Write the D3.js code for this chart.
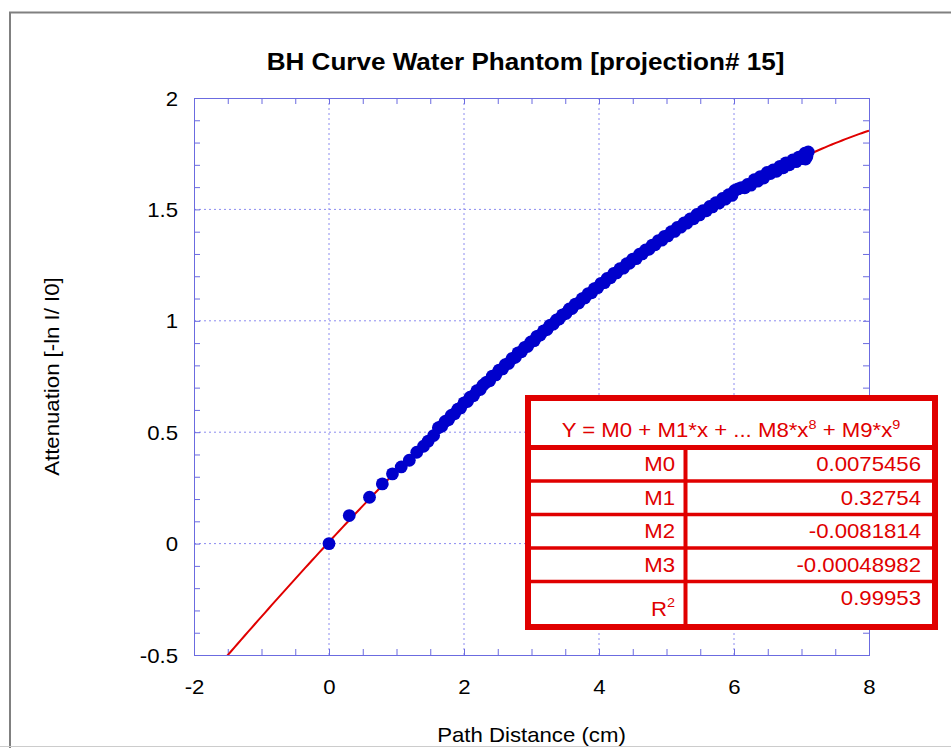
<!DOCTYPE html>
<html><head><meta charset="utf-8">
<script src="https://cdn.jsdelivr.net/npm/d3@7"></script>
<style>html,body{margin:0;padding:0;background:#fff;} svg{display:block;}</style>
</head><body>
<script>
// ---- data ----
const chartTitle = "BH Curve Water Phantom [projection# 15]";
const xAxisTitle = "Path Distance (cm)";
const yAxisTitle = "Attenuation [-ln I/ I0]";

const pathDistance = [
  0, 0.30, 0.60, 0.79, 0.94, 1.07, 1.19, 1.30, 1.40, 1.47, 1.55,
  1.62, 1.67, 1.72, 1.77, 1.81, 1.86, 1.91, 1.95, 2.00, 2.05, 2.09, 2.14, 2.19, 2.24, 2.28,
  2.33, 2.38, 2.42, 2.47, 2.52, 2.57, 2.61, 2.66, 2.71, 2.76, 2.80, 2.85, 2.90, 2.94, 2.99,
  3.04, 3.08, 3.13, 3.18, 3.23, 3.27, 3.32, 3.37, 3.41, 3.46, 3.51, 3.56, 3.60, 3.65, 3.70,
  3.75, 3.79, 3.84, 3.89, 3.93, 3.98, 4.03, 4.08, 4.12, 4.17, 4.22, 4.26, 4.31, 4.36, 4.41,
  4.45, 4.50, 4.55, 4.60, 4.64, 4.69, 4.74, 4.79, 4.83, 4.88, 4.93, 4.97, 5.02, 5.07, 5.12,
  5.16, 5.21, 5.26, 5.30, 5.35, 5.40, 5.45, 5.49, 5.54, 5.59, 5.64, 5.68, 5.73, 5.78, 5.83,
  5.87, 5.92, 5.97, 6.01, 6.06, 6.11, 6.16, 6.20, 6.25, 6.30, 6.35, 6.39, 6.44, 6.49, 6.54,
  6.58, 6.63, 6.68, 6.73, 6.77, 6.82, 6.87, 6.92, 6.96, 7.01, 7.05, 7.06, 7.08, 7.10
];
const attenuation = [
  0, 0.126, 0.208, 0.268, 0.313, 0.344, 0.374, 0.410, 0.437, 0.460, 0.485,
  0.520, 0.527, 0.548, 0.556, 0.575, 0.583, 0.604, 0.609, 0.632, 0.638, 0.657, 0.664, 0.686, 0.692, 0.711,
  0.724, 0.731, 0.752, 0.757, 0.779, 0.784, 0.803, 0.809, 0.830, 0.836, 0.856, 0.861, 0.881, 0.885, 0.905,
  0.911, 0.930, 0.936, 0.955, 0.961, 0.979, 0.985, 1.004, 1.008, 1.027, 1.033, 1.053, 1.055, 1.075, 1.080,
  1.099, 1.103, 1.122, 1.126, 1.144, 1.149, 1.168, 1.171, 1.190, 1.193, 1.213, 1.215, 1.234, 1.236, 1.256,
  1.258, 1.277, 1.279, 1.299, 1.300, 1.318, 1.321, 1.340, 1.341, 1.360, 1.362, 1.379, 1.381, 1.400, 1.401,
  1.419, 1.420, 1.439, 1.438, 1.457, 1.458, 1.477, 1.475, 1.494, 1.494, 1.513, 1.511, 1.530, 1.529, 1.549,
  1.546, 1.566, 1.563, 1.585, 1.592, 1.598, 1.597, 1.612, 1.609, 1.633, 1.627, 1.647, 1.641, 1.666, 1.661,
  1.677, 1.671, 1.693, 1.687, 1.709, 1.700, 1.722, 1.714, 1.735, 1.728, 1.752, 1.726, 1.737, 1.758
];

const fitTerms = ["M0", "M1", "M2", "M3"];
const fitCoefficients = [0.0075456, 0.32754, -0.0081814, -0.00048982];
const fitCoefficientLabels = ["0.0075456", "0.32754", "-0.0081814", "-0.00048982"];
const rSquaredValue = "0.99953";

const xTicks = [-2, 0, 2, 4, 6, 8];
const yTicks = [-0.5, 0, 0.5, 1, 1.5, 2];
const xMinorStep = 0.5;
const yMinorStep = 0.1;

// ---- layout ----
const W = 951, H = 748;
const plot = {left: 194, right: 869, top: 98, bottom: 655};
const FONT = "'Liberation Sans', Arial, sans-serif";
const SX = 1.11;               // horizontal glyph stretch seen in the reference
const RED = "#e00000";
const BLUE_DOT = "#0000cc";

const svg = d3.select("body").append("svg").attr("width", W).attr("height", H);

// page frame
svg.append("line").attr("x1", 9).attr("x2", W).attr("y1", 12.5).attr("y2", 12.5)
  .attr("stroke", "#808080").attr("stroke-width", 2);
svg.append("line").attr("x1", 10).attr("x2", 10).attr("y1", 12).attr("y2", H)
  .attr("stroke", "#808080").attr("stroke-width", 2);
svg.append("line").attr("x1", 0).attr("x2", W).attr("y1", 746.5).attr("y2", 746.5)
  .attr("stroke", "#cccccc").attr("stroke-width", 1);

const x = d3.scaleLinear().domain([xTicks[0], xTicks[xTicks.length - 1]]).range([plot.left, plot.right]);
const y = d3.scaleLinear().domain([yTicks[0], yTicks[yTicks.length - 1]]).range([plot.bottom, plot.top]);

function stretchedText(parent, tx, ty, str, opts = {}) {
  const g = parent.append("g")
    .attr("transform", `translate(${tx},${ty})` + (opts.rotate ? ` rotate(${opts.rotate})` : "") + ` scale(${SX},1)`);
  const t = g.append("text")
    .attr("font-family", FONT)
    .attr("font-size", opts.size || 20)
    .attr("font-weight", opts.weight || "normal")
    .attr("fill", opts.fill || "#000")
    .attr("text-anchor", opts.anchor || "middle")
    .text(str);
  return t;
}

// title
stretchedText(svg, (plot.left + plot.right) / 2 - 6, 70, chartTitle, {size: 23.5, weight: "bold"});

// gridlines (dotted)
const grid = svg.append("g");
grid.selectAll(".gx").data(xTicks.slice(1, -1)).join("line")
  .attr("x1", d => x(d)).attr("x2", d => x(d)).attr("y1", plot.top).attr("y2", plot.bottom)
  .attr("stroke", "#8c8cf0").attr("stroke-width", 1).attr("stroke-dasharray", "2,3");
grid.selectAll(".gy").data(yTicks.slice(1, -1)).join("line")
  .attr("x1", plot.left).attr("x2", plot.right).attr("y1", d => y(d)).attr("y2", d => y(d))
  .attr("stroke", "#8c8cf0").attr("stroke-width", 1).attr("stroke-dasharray", "2,3");

// minor ticks via d3 axes (inward)
const xMinor = d3.range(xTicks[0], xTicks[xTicks.length - 1] + 1e-9, xMinorStep);
const yMinor = d3.range(yTicks[0], yTicks[yTicks.length - 1] + 1e-9, yMinorStep);
const tickColor = "#6b6be0";
function styleMinor(g) {
  g.select(".domain").remove();
  g.selectAll("line").attr("stroke", tickColor);
  g.selectAll("text").remove();
}
svg.append("g").attr("transform", `translate(0,${plot.bottom})`)
  .call(d3.axisBottom(x).tickValues(xMinor).tickSize(-6).tickFormat(() => "")).call(styleMinor);
svg.append("g").attr("transform", `translate(0,${plot.top})`)
  .call(d3.axisTop(x).tickValues(xMinor).tickSize(-6).tickFormat(() => "")).call(styleMinor);
svg.append("g").attr("transform", `translate(${plot.left},0)`)
  .call(d3.axisLeft(y).tickValues(yMinor).tickSize(-6).tickFormat(() => "")).call(styleMinor);
svg.append("g").attr("transform", `translate(${plot.right},0)`)
  .call(d3.axisRight(y).tickValues(yMinor).tickSize(-6).tickFormat(() => "")).call(styleMinor);

// plot frame
svg.append("rect").attr("x", plot.left + 0.5).attr("y", plot.top + 0.5)
  .attr("width", plot.right - plot.left).attr("height", plot.bottom - plot.top)
  .attr("fill", "none").attr("stroke", tickColor).attr("stroke-width", 1);

// tick labels via axes
const xLab = svg.append("g").attr("transform", `translate(0,${plot.bottom})`)
  .call(d3.axisBottom(x).tickValues(xTicks).tickSize(0).tickFormat(d => String(d)));
xLab.select(".domain").remove();
xLab.selectAll("text").attr("y", 39).attr("dy", null)
  .attr("font-family", FONT).attr("font-size", 20).attr("fill", "#000")
  .attr("transform", `scale(${SX},1)`);

const yLab = svg.append("g").attr("transform", `translate(${plot.left},0)`)
  .call(d3.axisLeft(y).tickValues(yTicks).tickSize(0).tickFormat(d => String(d)));
yLab.select(".domain").remove();
yLab.selectAll("text").attr("x", -16 / SX).attr("dy", "0.35em")
  .attr("font-family", FONT).attr("font-size", 20).attr("fill", "#000")
  .attr("transform", `scale(${SX},1)`);

// axis titles
stretchedText(svg, (plot.left + plot.right) / 2, 742, xAxisTitle, {size: 20});
stretchedText(svg, 59, (plot.top + plot.bottom) / 2, yAxisTitle, {size: 20, rotate: -90});

// fitted curve from the table coefficients
svg.append("clipPath").attr("id", "pc").append("rect")
  .attr("x", plot.left).attr("y", plot.top).attr("width", plot.right - plot.left).attr("height", plot.bottom - plot.top);
const poly = v => fitCoefficients.reduce((s, c, i) => s + c * Math.pow(v, i), 0);
const curveX = d3.range(xTicks[0], xTicks[xTicks.length - 1] + 1e-9, 0.05);
svg.append("path").attr("clip-path", "url(#pc)")
  .datum(curveX)
  .attr("d", d3.line().x(d => x(d)).y(d => y(poly(d))))
  .attr("fill", "none").attr("stroke", RED).attr("stroke-width", 2);

// measured points
svg.append("g").selectAll("circle").data(pathDistance.map((d, i) => [d, attenuation[i]])).join("circle")
  .attr("cx", d => x(d[0])).attr("cy", d => y(d[1])).attr("r", 6.4).attr("fill", BLUE_DOT);

// ---- coefficient table ----
const T = {x: 525, y: 395, w: 413, h: 235, border: 6};
const tbl = svg.append("g");
tbl.append("rect").attr("x", T.x + T.border / 2).attr("y", T.y + T.border / 2)
  .attr("width", T.w - T.border).attr("height", T.h - T.border)
  .attr("fill", "#fff").attr("stroke", RED).attr("stroke-width", T.border);

const tableRows = fitTerms.map((t, i) => ({label: t, value: fitCoefficientLabels[i]}))
  .concat([{label: "R", sup: "2", value: rSquaredValue}]);
const headerBottom = 447.5;
const innerBottom = T.y + T.h - T.border;
const rowBounds = [headerBottom, 481, 514.5, 548, 581.5, innerBottom];
const divX = 685.5;

tbl.append("line").attr("x1", T.x + T.border).attr("x2", T.x + T.w - T.border)
  .attr("y1", headerBottom).attr("y2", headerBottom).attr("stroke", RED).attr("stroke-width", 5);
tbl.selectAll(".sep").data(rowBounds.slice(1, -1)).join("line")
  .attr("x1", T.x + T.border).attr("x2", T.x + T.w - T.border)
  .attr("y1", d => d).attr("y2", d => d).attr("stroke", RED).attr("stroke-width", 3.5);
tbl.append("line").attr("x1", divX).attr("x2", divX).attr("y1", headerBottom).attr("y2", innerBottom)
  .attr("stroke", RED).attr("stroke-width", 4);

// header formula
const hdr = stretchedText(tbl, 731, 437, "", {size: 20, fill: RED});
hdr.append("tspan").text("Y = M0 + M1*x + ... M8*x");
hdr.append("tspan").attr("font-size", 13).attr("dy", -8).text("8");
hdr.append("tspan").attr("dy", 8).text(" + M9*x");
hdr.append("tspan").attr("font-size", 13).attr("dy", -8).text("9");

tableRows.forEach((r, i) => {
  const top = rowBounds[i], bot = rowBounds[i + 1];
  const mid = (top + bot) / 2;
  if (r.sup) {
    const t = stretchedText(tbl, 675, bot - 8, "", {size: 20, fill: RED, anchor: "end"});
    t.append("tspan").text(r.label);
    t.append("tspan").attr("font-size", 13).attr("dy", -9).text(r.sup);
    stretchedText(tbl, 921, mid + 2, r.value, {size: 20, fill: RED, anchor: "end"});
  } else {
    stretchedText(tbl, 675, mid + 7, r.label, {size: 20, fill: RED, anchor: "end"});
    stretchedText(tbl, 921, mid + 7, r.value, {size: 20, fill: RED, anchor: "end"});
  }
});
</script>
</body></html>
